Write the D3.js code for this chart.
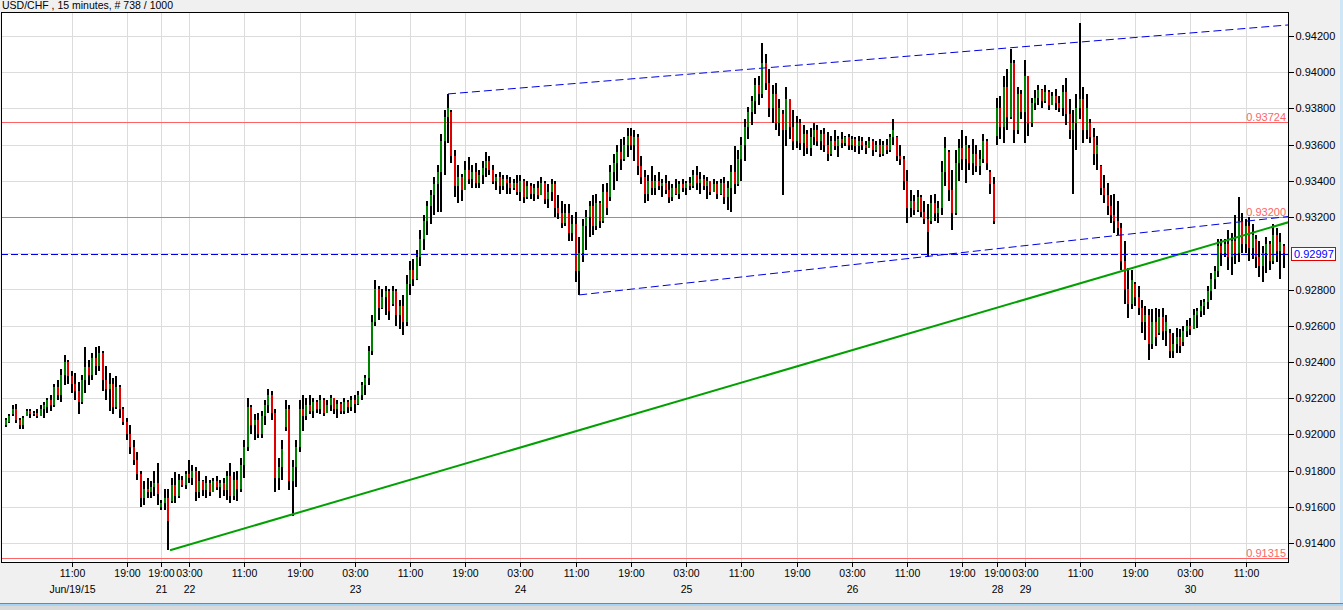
<!DOCTYPE html>
<html><head><meta charset="utf-8">
<script src="https://cdn.jsdelivr.net/npm/d3@7"></script>
<style>
html,body{margin:0;padding:0;background:#f0f0f0;overflow:hidden}
svg{display:block}
text{font-family:"Liberation Sans",Arial,sans-serif;font-size:11px}
</style></head><body>
<svg id="c" width="1343" height="610"></svg>
<script>
// ---------- DATA (30-minute bars, prices in pips above 0.9000) ----------
const chartTitle = "USD/CHF , 15 minutes, # 738 / 1000";
const BASE = 0.9, PIP = 0.0001;

const openPips = [
205,207,211,214,208,205,210,213,211,212, 210,214,215,219,216,226,222,233,240,232,
228,224,218,230,237,233,242,238,245,230, 225,228,215,226,214,207,200,193,186,178,
165,170,168,171,173,160,162,165,163,172, 166,175,172,178,176,180,168,174,169,173,
168,174,171,173,169,177,166,175,170,183, 193,215,205,208,200,210,216,222,212,176,
182,204,214,174,182,193,214,210,216,213, 218,214,219,212,216,220,214,217,213,218,
215,219,217,222,227,231,246,262,280,270, 276,279,272,279,266,271,262,283,291,286,
298,308,318,326,332,338,345,362,375,378, 354,337,342,335,346,341,345,339,343,347,
351,346,340,342,337,341,339,336,339,334, 340,331,337,333,336,332,339,330,334,338,
325,322,317,322,311,316,290,300,315,320, 326,315,328,318,334,331,345,350,356,352,
360,365,360,364,348,342,333,340,336,340, 337,339,335,331,336,333,338,336,339,337,
343,339,341,337,340,334,338,333,339,331, 336,345,338,352,360,370,378,384,393,388,
405,394,380,388,372,377,368,385,370,362, 372,361,366,358,364,368,362,366,360,355,
362,359,363,361,364,360,363,359,362,360, 358,362,357,360,355,360,357,364,364,354,
352,340,325,329,324,331,323,319,318,328, 322,325,345,356,335,322,350,358,352,358,
350,355,348,352,362,345,338,365,380,370, 392,375,405,368,388,378,398,372,383,386,
390,384,389,382,387,383,380,389,377,368, 372,380,385,368,372,364,355,348,336,332,
326,321,318,314,296,280,272,283,276,270, 262,266,250,262,256,265,257,256,246,250,
254,251,257,260,258,266,268,271,273,279, 286,290,304,300,305,298,307,300,318,305,
315,303,308,298,293,300,305,296,310,301, 304];

const highPips = [
209,211,216,217,209,210,214,214,213,214, 216,218,220,222,228,230,236,244,241,235,
234,229,233,248,241,245,248,249,246,238, 234,231,232,227,215,209,205,197,190,180,
174,176,174,180,184,164,170,170,176,179, 178,177,180,186,183,182,180,175,177,175,
176,177,175,176,180,184,179,180,187,197, 220,216,211,212,213,219,225,224,214,187,
197,219,216,186,197,219,222,220,222,220, 219,222,220,219,222,220,219,218,220,219,
221,222,224,229,233,249,266,285,282,280, 282,280,282,280,274,277,288,296,297,302,
313,321,329,335,342,349,366,379,388,379, 357,349,344,351,353,349,350,346,351,356,
354,349,344,345,343,343,342,341,343,343, 341,340,339,338,340,342,340,338,341,340,
332,329,327,327,321,323,309,319,324,329, 332,333,329,338,339,349,355,360,363,364,
369,369,368,366,354,346,343,348,343,345, 341,343,340,338,341,340,341,340,342,346,
348,345,343,342,340,341,340,341,342,340, 349,359,357,364,374,381,387,397,398,416,
410,402,393,394,385,379,392,385,379,376, 374,371,368,369,372,371,368,369,367,365,
368,365,367,365,366,365,364,365,364,362, 364,363,362,363,362,363,366,374,365,360,
354,346,335,332,335,332,329,327,332,333, 329,351,364,357,346,357,363,368,365,360,
363,360,357,366,363,346,342,386,387,398, 402,413,407,392,390,407,398,386,390,393,
391,393,390,389,391,387,393,397,385,379, 388,427,392,388,374,369,365,349,343,339,
332,333,329,317,307,292,291,284,282,274, 271,269,269,270,269,270,266,258,256,259,
258,260,263,264,269,270,274,275,282,289, 293,308,308,308,313,311,321,331,322,319,
320,316,310,307,304,309,307,316,314,311, 305];

const lowPips = [
204,206,210,206,203,203,210,209,210,209, 210,209,212,213,215,219,218,227,228,223,
219,211,217,223,227,230,233,235,224,219, 213,211,214,209,205,197,189,183,175,160,
161,165,165,166,161,158,158,136,162,162, 165,171,170,173,172,163,165,166,165,166,
168,169,165,166,164,162,164,163,168,176, 191,200,197,198,198,205,212,208,168,169,
175,202,169,155,171,190,202,208,211,209, 212,211,210,212,213,211,209,211,211,212,
213,212,216,219,222,227,244,260,263,269, 266,263,271,260,258,255,260,277,282,285,
293,302,310,316,321,323,323,343,361,350, 331,328,329,335,338,336,336,336,338,342,
343,338,335,333,335,333,333,335,332,329, 328,330,330,329,330,332,327,325,329,320,
319,314,315,307,307,284,277,295,302,309, 310,313,314,317,321,329,335,340,346,351,
353,357,351,343,338,328,329,332,332,335, 331,333,328,329,332,330,334,332,335,336,
335,333,335,330,332,334,330,332,327,324, 323,333,337,340,351,363,371,377,382,386,
390,375,372,368,365,332,359,363,357,358, 357,354,355,354,360,359,357,356,351,354,
357,353,358,359,357,357,356,355,357,355, 358,354,356,353,354,355,356,360,351,349,
335,317,320,321,323,320,316,298,316,318, 317,321,337,329,313,321,340,346,339,346,
343,345,343,350,346,333,316,360,363,361, 368,374,361,366,374,361,365,370,379,382,
380,383,379,382,379,378,376,371,363,333, 357,374,361,363,361,349,346,332,328,321,
317,311,310,291,272,264,269,271,266,256, 252,241,247,249,255,252,249,242,242,245,
245,249,254,255,258,259,265,266,269,274, 280,287,293,298,291,288,294,295,300,300,
296,297,292,287,284,289,291,294,295,286, 292];

const closePips = [
208,210,214,208,205,209,213,211,212,210, 214,216,219,216,226,222,233,240,232,228,
224,218,230,237,233,242,238,245,230,225, 228,215,226,214,207,200,193,186,178,165,
170,168,171,173,167,162,165,152,172,166, 175,172,178,176,180,168,174,169,173,168,
174,171,173,169,177,166,175,170,183,193, 215,205,208,200,210,216,222,212,176,182,
192,214,174,182,193,214,210,216,213,218, 214,219,212,216,220,214,217,213,218,215,
219,217,222,227,231,246,262,280,270,276, 279,268,279,266,271,262,283,291,286,298,
308,318,326,332,338,345,362,375,380,354, 337,342,335,346,341,345,339,343,347,351,
346,340,342,337,341,339,336,339,334,340, 331,337,333,336,332,339,330,334,338,325,
322,317,322,311,316,290,300,315,320,326, 315,328,318,334,325,345,350,356,352,360,
365,360,364,348,342,333,340,336,340,337, 339,335,331,336,333,338,336,339,337,343,
339,341,337,340,334,338,333,339,331,336, 345,338,352,360,370,378,384,393,388,405,
394,380,388,372,380,368,385,370,362,372, 361,366,358,364,368,362,366,360,355,362,
359,363,361,364,360,363,359,362,360,358, 362,357,360,355,360,357,364,368,354,352,
340,325,329,324,331,323,319,312,328,322, 325,345,358,335,322,350,358,352,360,350,
355,348,352,362,350,338,318,380,370,392, 375,405,368,388,378,398,372,383,386,390,
384,389,382,387,383,380,389,377,368,372, 380,385,368,380,364,355,360,336,332,326,
321,318,314,296,280,272,285,276,270,262, 266,250,262,254,265,257,262,246,250,254,
249,257,260,258,266,268,271,273,279,286, 290,304,300,305,298,307,300,318,305,315,
303,310,298,293,300,305,296,310,301,306, 300];

const priceTicks = [0.914,0.916,0.918,0.920,0.922,0.924,0.926,0.928,0.930,0.932,0.934,0.936,0.938,0.940,0.942];
const timeTickBars = [19,35,45,53,69,85,101,117,133,149,165,181,197,213,229,245,261,277,287,295,311,327,343,359];
const timeTickLabels = ["11:00","19:00","19:00","03:00","11:00","19:00","03:00","11:00","19:00","03:00","11:00","19:00",
                        "03:00","11:00","19:00","03:00","11:00","19:00","19:00","03:00","11:00","19:00","03:00","11:00"];
const dateTickLabels = ["Jun/19/15","","21","22","","","23","","","24","","",
                        "25","","","26","","","28","29","","","30",""];
const levelPrices = [0.93724, 0.93200, 0.91315];
const lastPrice = 0.92997;
// [barStart, priceStart, barEnd, priceEnd]
const trendLine    = [47.5, 0.91360, 371.3, 0.93171];
const channelUpper = [128,  0.93880, 371.3, 0.94261];
const channelLower = [166,  0.92770, 371.3, 0.93203];

// ---------- LAYOUT ----------
const W = 1343, H = 610;
const P = {left: 1, top: 12, right: 1288, bottom: 562};
const svg = d3.select("#c");
const x = d3.scaleLinear().domain([0, 370]).range([6, 6 + 370 * 3.453]);
const y = d3.scaleLinear().domain([0.914, 0.942]).range([543, 36]);
const toPrice = v => BASE + v * PIP;
const fmt = d3.format(".5f");

// window background / frame bits
svg.append("rect").attr("width", W).attr("height", H).attr("fill", "#f0f0f0");
svg.append("rect").attr("x", 0).attr("y", 603).attr("width", W).attr("height", 1).attr("fill", "#3399dd");
svg.append("rect").attr("x", 0).attr("y", 604).attr("width", W).attr("height", 2).attr("fill", "#a6d4f2");
svg.append("rect").attr("x", 0).attr("y", 606).attr("width", W).attr("height", 4).attr("fill", "#d9d9d9");
svg.append("rect").attr("x", 1340).attr("y", 0).attr("width", 3).attr("height", 603).attr("fill", "#cfe6f7");

svg.append("text").attr("x", 2).attr("y", 9).attr("fill", "#000").style("font-size", "10.5px").text(chartTitle);

// plot area
svg.append("rect").attr("x", P.left).attr("y", P.top).attr("width", P.right - P.left).attr("height", P.bottom - P.top).attr("fill", "#fff");
svg.append("clipPath").attr("id", "clip").append("rect")
  .attr("x", P.left + 1).attr("y", P.top + 1).attr("width", P.right - P.left - 1).attr("height", P.bottom - P.top - 1);
const g = svg.append("g").attr("clip-path", "url(#clip)").attr("shape-rendering", "crispEdges");

// grid
g.selectAll("line.hg").data(priceTicks).join("line")
  .attr("x1", P.left).attr("x2", P.right)
  .attr("y1", d => Math.round(y(d)) + 0.5).attr("y2", d => Math.round(y(d)) + 0.5)
  .attr("stroke", "#dcdcdc");
g.selectAll("line.vg").data(timeTickBars).join("line")
  .attr("y1", P.top).attr("y2", P.bottom)
  .attr("x1", d => Math.round(x(d)) + 0.5).attr("x2", d => Math.round(x(d)) + 0.5)
  .attr("stroke", "#dcdcdc");

// horizontal level lines
g.selectAll("line.lvl").data(levelPrices).join("line")
  .attr("x1", P.left).attr("x2", P.right)
  .attr("y1", d => Math.round(y(d)) + 0.5).attr("y2", d => Math.round(y(d)) + 0.5)
  .attr("stroke", "#ff6464");

// candles
const bars = openPips.map((o, i) => ({
  i, o: toPrice(o), h: toPrice(highPips[i]), l: toPrice(lowPips[i]), c: toPrice(closePips[i])
}));
g.selectAll("rect.wick").data(bars).join("rect")
  .attr("x", d => Math.round(x(d.i)) - 1).attr("width", 2)
  .attr("y", d => Math.round(y(Math.max(d.h, d.o, d.c))))
  .attr("height", d => Math.max(1, Math.round(y(Math.min(d.l, d.o, d.c))) - Math.round(y(Math.max(d.h, d.o, d.c)))))
  .attr("fill", "#000");
g.selectAll("rect.body").data(bars).join("rect")
  .attr("x", d => Math.round(x(d.i)) - 1).attr("width", 2)
  .attr("y", d => Math.round(y(Math.max(d.o, d.c))))
  .attr("height", d => Math.max(1, Math.round(y(Math.min(d.o, d.c))) - Math.round(y(Math.max(d.o, d.c)))))
  .attr("fill", d => d.c >= d.o ? "#008000" : "#e00000");

// channel + trend lines
const lineG = svg.append("g").attr("clip-path", "url(#clip)");
[channelUpper, channelLower].forEach(L => {
  lineG.append("line")
    .attr("x1", x(L[0])).attr("y1", y(L[1])).attr("x2", x(L[2])).attr("y2", y(L[3]))
    .attr("stroke", "#0000e6").attr("stroke-width", 1).attr("stroke-dasharray", "8,4");
});
lineG.append("line")
  .attr("x1", x(trendLine[0])).attr("y1", y(trendLine[1])).attr("x2", x(trendLine[2])).attr("y2", y(trendLine[3]))
  .attr("stroke", "#00a000").attr("stroke-width", 2);

// last price dashed line
lineG.append("line")
  .attr("x1", P.left).attr("x2", P.right)
  .attr("y1", Math.round(y(lastPrice)) + 0.5).attr("y2", Math.round(y(lastPrice)) + 0.5)
  .attr("stroke", "#0000e6").attr("stroke-dasharray", "7,3").attr("shape-rendering", "crispEdges");

// level labels
svg.selectAll("text.lvl").data(levelPrices).join("text")
  .attr("x", P.right - 2).attr("y", d => Math.round(y(d)) - 1)
  .attr("text-anchor", "end").attr("fill", "#ff6464").text(d => fmt(d));

// frame
svg.append("rect").attr("x", P.left + 0.5).attr("y", P.top + 0.5)
  .attr("width", P.right - P.left).attr("height", P.bottom - P.top)
  .attr("fill", "none").attr("stroke", "#000").attr("shape-rendering", "crispEdges");

// right price axis
const yAxis = d3.axisRight(y).tickValues(priceTicks.filter(p => Math.abs(y(p) - y(lastPrice)) > 8))
  .tickFormat(fmt).tickSize(5).tickPadding(2);
const ya = svg.append("g").attr("transform", `translate(${P.right + 0.5},0)`).call(yAxis);
ya.select(".domain").remove();
ya.selectAll("line").attr("stroke", "#000").attr("shape-rendering", "crispEdges");
ya.selectAll("text").attr("fill", "#000").style("font-family", "'Liberation Sans',Arial,sans-serif").style("font-size", "11px");

// last price box
const ly = Math.round(y(lastPrice));
svg.append("rect").attr("x", 1291.5).attr("y", ly - 6.5).attr("width", 44).attr("height", 13)
  .attr("fill", "#fff").attr("stroke", "#e00000").attr("shape-rendering", "crispEdges");
svg.append("text").attr("x", 1294).attr("y", ly + 4).attr("fill", "#0000ff").text(fmt(lastPrice));

// bottom time axis
const xa = svg.append("g").style("font-size", "10.5px");
xa.selectAll("line").data(timeTickBars).join("line")
  .attr("x1", d => Math.round(x(d)) + 0.5).attr("x2", d => Math.round(x(d)) + 0.5)
  .attr("y1", P.bottom + 1).attr("y2", P.bottom + 5).attr("stroke", "#000").attr("shape-rendering", "crispEdges");
xa.selectAll("text.t").data(timeTickBars).join("text").attr("class", "t")
  .attr("x", d => Math.round(x(d)) + 0.5).attr("y", 577).attr("text-anchor", "middle").attr("fill", "#000")
  .style("font-size", "10.5px").text((d, k) => timeTickLabels[k]);
xa.selectAll("text.d").data(timeTickBars).join("text").attr("class", "d")
  .attr("x", d => Math.round(x(d)) + 0.5).attr("y", 593).attr("text-anchor", "middle").attr("fill", "#000")
  .style("font-size", "10.5px").text((d, k) => dateTickLabels[k]);
</script></body></html>
